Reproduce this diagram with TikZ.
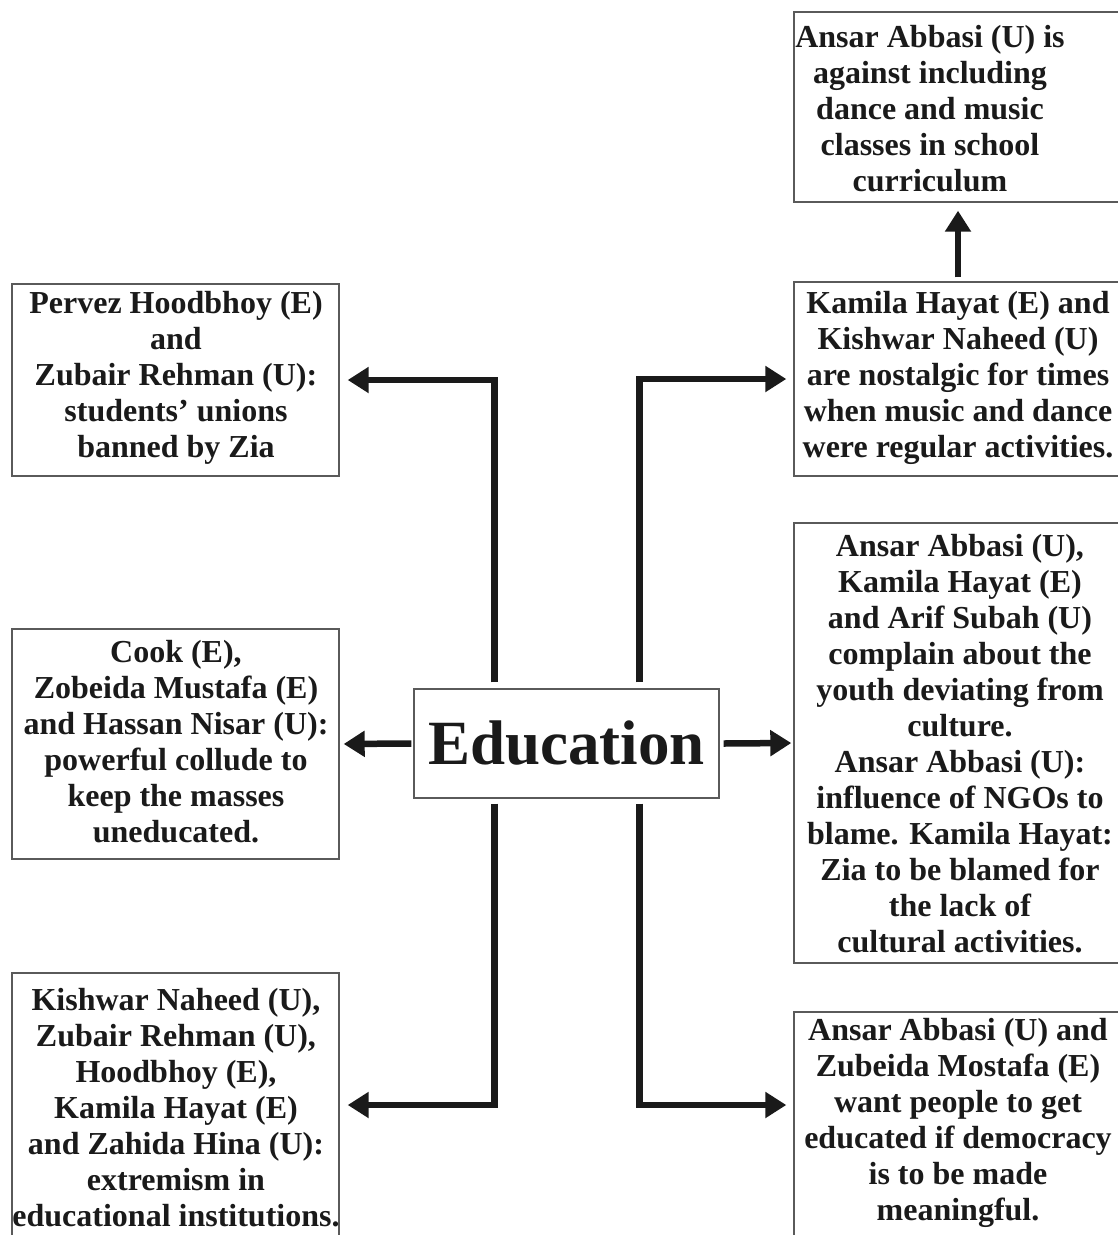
\documentclass[tikz,border=0pt]{standalone}
\usepackage{fontspec}
\setmainfont{Liberation Serif}
\usetikzlibrary{arrows.meta,calc}

\definecolor{ink}{HTML}{1A1A1A}
\definecolor{frame}{HTML}{5A5A5A}

\tikzset{
  box/.style={draw=frame, line width=1.4pt, rectangle, inner sep=0pt},
  label/.style={inner sep=0pt, align=center, text=ink,
    font=\bfseries\fontsize{32}{36}\selectfont},
  conn/.style={draw=ink, line width=6.5pt, line join=miter,
    -{Triangle[length=21pt,width=25pt]}},
}

\begin{document}
\begin{tikzpicture}[x=1pt,y=-1pt]
  \useasboundingbox (0,0) rectangle (1118,1235);
  \clip (0,0) rectangle (1118,1235);

  % frames of the surrounding boxes
  \node[box, minimum width=327pt, minimum height=192pt] (pervez)  at (175.5,380)  {};
  \node[box, minimum width=327pt, minimum height=230pt] (cook)    at (175.5,744)  {};
  \node[box, minimum width=327pt, minimum height=264pt] (kishwar) at (175.5,1105) {};
  \node[box, minimum width=336pt, minimum height=190pt] (ansarA)  at (962,107)    {};
  \node[box, minimum width=336pt, minimum height=194pt] (kamila)  at (962,379)    {};
  \node[box, minimum width=336pt, minimum height=440pt] (ansarB)  at (962,743)    {};
  \node[box, minimum width=336pt, minimum height=238pt] (ansarC)  at (962,1131)   {};

  % central topic
  \node[box, minimum width=305pt, minimum height=109pt, text=ink,
        font=\bfseries\fontsize{63}{70}\selectfont] (edu) at (566.5,743.5) {Education};

  % texts inside the boxes
  \node[label] (tPervez) at (176,378) {Pervez Hoodbhoy (E)\\and\\Zubair Rehman (U):\\students’ unions\\banned by Zia};
  \node[label] (tCook) at (176,742) {Cook (E),\\Zobeida Mustafa (E)\\and Hassan Nisar (U):\\powerful collude to\\keep the masses\\uneducated.};
  \node[label] (tKishwar) at (176,1108) {Kishwar Naheed (U),\\Zubair Rehman (U),\\Hoodbhoy (E),\\Kamila Hayat (E)\\and Zahida Hina (U):\\extremism in\\educational institutions.};
  \node[label] (tAnsarA) at (930,109) {Ansar Abbasi (U) is\\against including\\dance and music\\classes in school\\curriculum};
  \node[label] (tKamila) at (958,378) {Kamila Hayat (E) and\\Kishwar Naheed (U)\\are nostalgic for times\\when music and dance\\were regular activities.};
  \node[label] (tAnsarB) at (960,744) {Ansar Abbasi (U),\\Kamila Hayat (E)\\and Arif Subah (U)\\complain about the\\youth deviating from\\culture.\\Ansar Abbasi (U):\\influence of NGOs to\\blame. Kamila Hayat:\\Zia to be blamed for\\the lack of\\cultural activities.};
  \node[label] (tAnsarC) at (958,1123) {Ansar Abbasi (U) and\\Zubeida Mostafa (E)\\want people to get\\educated if democracy\\is to be made\\meaningful.};

  % trunk positions and row heights
  \coordinate (lt) at (494.5,0);
  \coordinate (rt) at (639.5,0);
  \coordinate (rb) at (0,1105);
  \coordinate (up) at (958,0);

  % connectors
  \draw[conn, shorten >=8pt] ($(lt |- edu.north)+(0,-6)$) |- (pervez.east);
  \draw[conn, shorten >=4pt] ([xshift=-2pt]edu.west) -- (cook.east);
  \draw[conn, shorten >=8pt] ($(lt |- edu.south)+(0,5)$) |- (kishwar.east);
  \draw[conn, shorten >=7pt] ($(rt |- edu.north)+(0,-6)$) |- (kamila.west);
  \draw[conn, shorten >=2pt] ([xshift=4pt]edu.east) -- (ansarB.west);
  \draw[conn, shorten >=7pt] ($(rt |- edu.south)+(0,5)$) |- (ansarC.west |- rb);
  \draw[conn, shorten <=4pt, shorten >=8pt] (kamila.north -| up) -- (ansarA.south -| up);
\end{tikzpicture}
\end{document}
